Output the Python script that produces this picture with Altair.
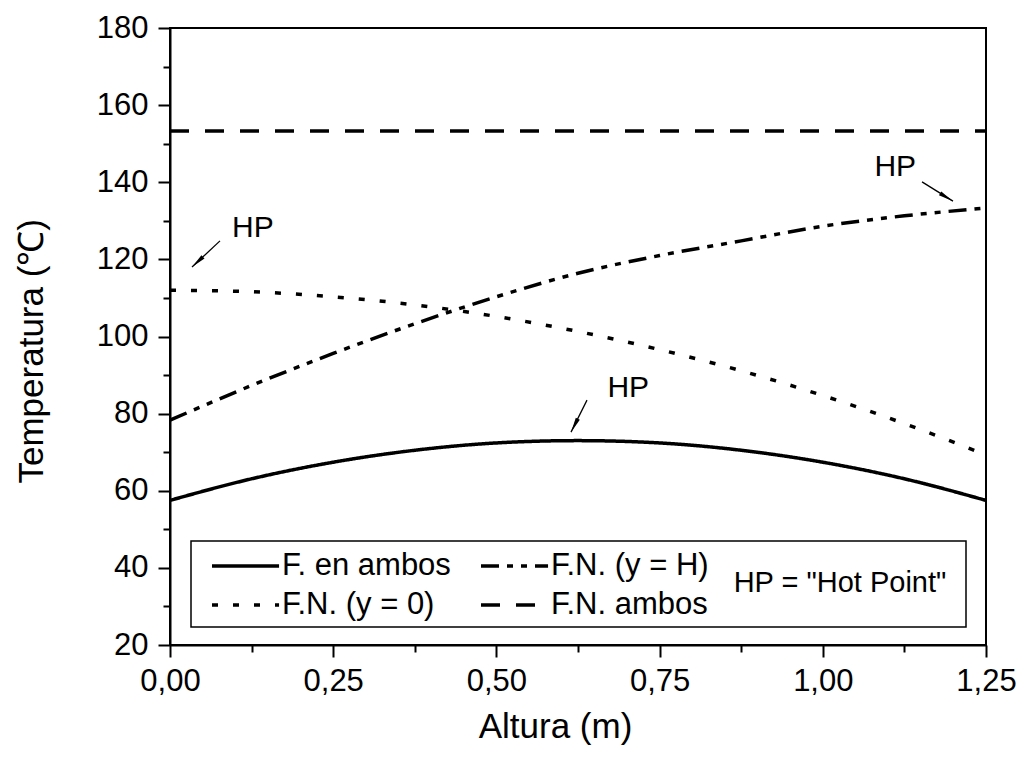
import altair as alt
import pandas as pd

# ---- data ----
altura = [0.0, 0.125, 0.25, 0.375, 0.5, 0.625, 0.75, 0.875, 1.0, 1.125, 1.25]
t_en_ambos = [57.5, 63.1, 67.4, 70.5, 72.4, 73.0, 72.4, 70.5, 67.4, 63.1, 57.5]
t_fn_y0 = [112.0, 111.6, 110.3, 108.2, 105.2, 101.3, 96.6, 91.1, 84.7, 77.4, 69.3]
t_fn_yH = [78.3, 87.3, 95.6, 103.3, 110.3, 116.4, 121.0, 124.8, 128.6, 131.3, 133.3]
t_fn_ambos = [153.3] * 11

series_names = ["F. en ambos", "F.N. (y = 0)", "F.N. (y = H)", "F.N. ambos"]
series_values = [t_en_ambos, t_fn_y0, t_fn_yH, t_fn_ambos]
dash_styles = [[1, 0], [6, 15], [18, 8, 6, 8, 6, 8], [19, 16]]

y_major = list(range(20, 181, 20))
y_minor = list(range(30, 180, 20))
x_major = [0.0, 0.25, 0.5, 0.75, 1.0, 1.25]
x_minor = [0.125, 0.375, 0.625, 0.875, 1.125]

# annotations ("HP") in data coordinates
hp_text_x = [0.127, 0.702, 1.111]
hp_text_y = [128.2, 86.6, 144.0]
arrow_x1 = [0.0766, 0.6388, 1.152]
arrow_y1 = [124.8, 83.5, 140.1]
arrow_x2 = [0.0337, 0.6143, 1.1994]
arrow_y2 = [118.0, 75.2, 135.1]
arrow_angle = [227, 207, 121]

FONT = "Liberation Sans"

rows = []
for name, vals in zip(series_names, series_values):
    for xv, tv in zip(altura, vals):
        rows.append({"Altura": xv, "T": tv, "serie": name})
df = pd.DataFrame(rows)

ann = pd.DataFrame({
    "tx": hp_text_x, "ty": hp_text_y, "label": ["HP"] * 3,
    "x1": arrow_x1, "y1": arrow_y1, "x2": arrow_x2, "y2": arrow_y2,
    "ang": arrow_angle,
})

xscale = alt.Scale(domain=[0, 1.25], nice=False, zero=False)
yscale = alt.Scale(domain=[20, 180], nice=False, zero=False)

x_axis = alt.Axis(
    values=x_major, tickSize=12, labelPadding=9, labelFlush=False, labelOverlap=False,
    labelExpr="replace(format(datum.value, '.2f'), '.', ',')",
    title="Altura (m)", titleFontSize=35, titleFontWeight="normal", titleFont=FONT,
    titleX=385, titleY=81, titleBaseline="middle", titleAlign="center", orient="bottom",
)
y_axis = alt.Axis(
    values=y_major, tickSize=12, labelPadding=10, labelFlush=False, labelOverlap=False,
    format="d",
    title="Temperatura (℃)", titleFontSize=35, titleFontWeight="normal", titleFont=FONT,
    titleX=-139, titleY=455, titleAngle=270, titleBaseline="middle", titleAlign="left",
    orient="left",
)

lines = alt.Chart(df).mark_line(color="black", strokeWidth=3.5, interpolate="monotone").encode(
    x=alt.X("Altura:Q", scale=xscale, axis=x_axis),
    y=alt.Y("T:Q", scale=yscale, axis=y_axis),
    strokeDash=alt.StrokeDash(
        "serie:N",
        sort=series_names,
        scale=alt.Scale(domain=series_names, range=dash_styles),
        legend=alt.Legend(
            title=None, orient="none", legendX=40, legendY=521, columns=2,
            values=series_names,
            columnPadding=23, rowPadding=7,
            symbolType="M-1,0L3.47,0", symbolSize=900, symbolFillColor="transparent",
            symbolStrokeWidth=3.5, symbolStrokeColor="black", labelFontSize=31,
            labelFont=FONT, labelColor="black", labelOffset=38, padding=0,
            labelLimit=400,
        ),
    ),
    detail="serie:N",
)

minor = alt.Chart(df).mark_point(opacity=0).encode(
    x=alt.X("Altura:Q", scale=xscale, axis=alt.Axis(
        values=x_minor, tickSize=7, labels=False, domain=False, title=None, orient="bottom")),
    y=alt.Y("T:Q", scale=yscale, axis=alt.Axis(
        values=y_minor, tickSize=7, labels=False, domain=False, title=None, orient="left")),
)

hp_text = alt.Chart(ann).mark_text(fontSize=30, font=FONT, color="black", baseline="middle").encode(
    x=alt.X("tx:Q", scale=xscale, axis=None),
    y=alt.Y("ty:Q", scale=yscale, axis=None),
    text="label:N",
)

arrows = alt.Chart(ann).mark_rule(color="black", strokeWidth=1.3).encode(
    x=alt.X("x1:Q", scale=xscale, axis=None),
    y=alt.Y("y1:Q", scale=yscale, axis=None),
    x2="x2:Q",
    y2="y2:Q",
)

heads = alt.Chart(ann).mark_point(
    shape="M0,0L0.3,2L-0.3,2Z", filled=True, color="black", size=225, opacity=1,
).encode(
    x=alt.X("x2:Q", scale=xscale, axis=None),
    y=alt.Y("y2:Q", scale=yscale, axis=None),
    angle=alt.Angle("ang:Q", scale=None),
)

one = pd.DataFrame({"k": [0]})
legend_box = alt.Chart(one).mark_rect(fill="transparent", stroke="black", strokeWidth=1.5).encode(
    x=alt.value(21), x2=alt.value(796), y=alt.value(513), y2=alt.value(599),
)
hp_def = alt.Chart(one).mark_text(fontSize=29, font=FONT, color="black", baseline="middle").encode(
    x=alt.value(670), y=alt.value(555), text=alt.value('HP = "Hot Point"'),
)

chart = alt.layer(lines, minor, hp_text, arrows, heads, legend_box, hp_def).resolve_axis(
    x="independent", y="independent"
).properties(
    width=816, height=617,
    autosize=alt.AutoSizeParams(type="none"),
    padding={"left": 170, "top": 28, "right": 33, "bottom": 133},
    background="white",
).configure_view(
    stroke="black", strokeWidth=2,
).configure_axis(
    domainColor="black", domainWidth=2, tickColor="black", tickWidth=2,
    labelColor="black", labelFont=FONT, labelFontSize=31, grid=False, titleColor="black",
)

chart.save("out.html", embed_options={"renderer": "svg", "actions": False})
